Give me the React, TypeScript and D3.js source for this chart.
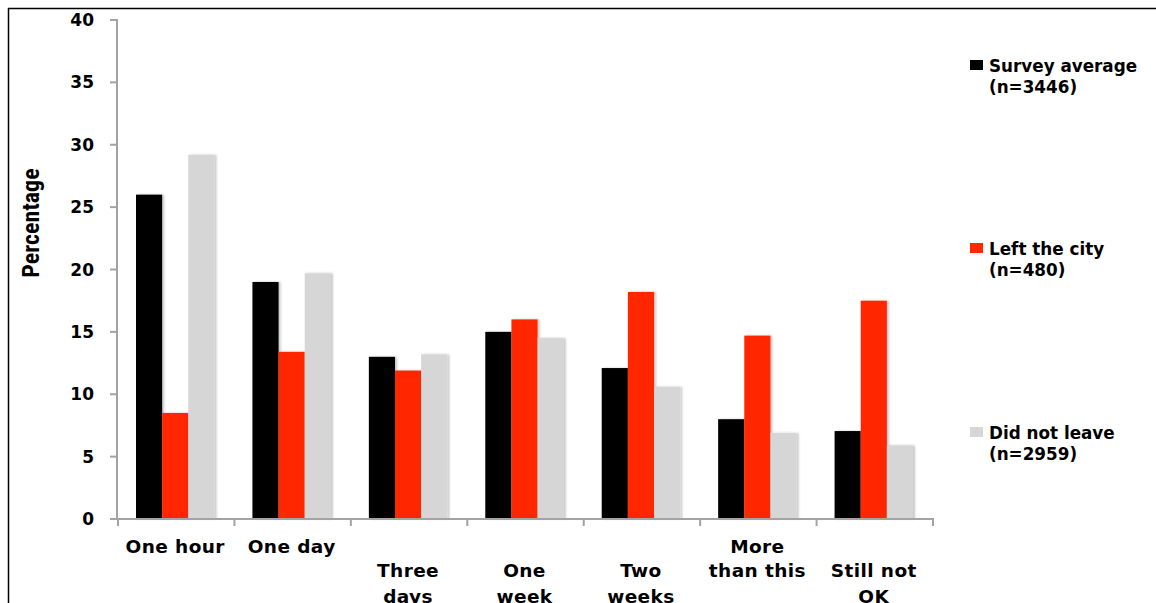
import React from "react";
import * as d3 from "d3";

const categories: string[][] = [
  ["One hour"],
  ["One day"],
  ["", "Three", "days"],
  ["", "One", "week"],
  ["", "Two", "weeks"],
  ["More", "than this"],
  ["", "Still not", "OK"],
];
const seriesNames = ["Survey average", "Left the city", "Did not leave"];
const seriesCounts = ["(n=3446)", "(n=480)", "(n=2959)"];
const seriesColors = ["#000000", "#ff2600", "#d6d6d6"];
const surveyAverage = [26.0, 19.0, 13.0, 15.0, 12.1, 8.0, 7.05];
const leftTheCity = [8.5, 13.4, 11.9, 16.0, 18.2, 14.7, 17.5];
const didNotLeave = [29.2, 19.7, 13.2, 14.5, 10.6, 6.9, 5.9];
const yTicks = [0, 5, 10, 15, 20, 25, 30, 35, 40];

const W = 1156;
const H = 603;
const plot = { left: 118, right: 933, top: 20, bottom: 519 };
const FONT = "'DejaVu Sans', Verdana, sans-serif";

export default function App() {
  const series = [surveyAverage, leftTheCity, didNotLeave];
  const idx = categories.map((_, i) => String(i));
  const x = d3.scaleBand<string>().domain(idx).range([plot.left, plot.right]).paddingInner(0).paddingOuter(0);
  const inner = d3
    .scaleBand<number>()
    .domain([0, 1, 2])
    .range([18, x.bandwidth() - 20])
    .padding(0);
  const y = d3.scaleLinear().domain([0, 40]).range([plot.bottom, plot.top]);
  const axisColor = "#a3a3a3";
  const rowY = [546, 570, 596];
  const boundaries = d3.range(categories.length + 1).map((i) =>
    i < categories.length ? (x(String(i)) as number) : plot.right
  );

  return (
    <svg
      width={W}
      height={H}
      style={{ position: "absolute", left: 0, top: 0, display: "block", background: "#fff" }}
    >
      <defs>
        <filter id="barShadow" x="-20%" y="-5%" width="140%" height="110%">
          <feDropShadow dx="2" dy="0" stdDeviation="1.2" floodColor="#000" floodOpacity="0.22" />
        </filter>
      </defs>
      {/* outer frame */}
      <line x1={8} y1={8.5} x2={W} y2={8.5} stroke="#000" strokeWidth={1.5} />
      <line x1={8.5} y1={8} x2={8.5} y2={H} stroke="#000" strokeWidth={1.5} />

      {/* bars */}
      {series.map((vals, s) => (
        <g key={s} filter="url(#barShadow)">
          {vals.map((v, i) => (
            <rect
              key={i}
              x={(x(String(i)) as number) + (inner(s) as number)}
              y={y(v)}
              width={inner.bandwidth()}
              height={y(0) - y(v)}
              fill={seriesColors[s]}
            />
          ))}
        </g>
      ))}

      {/* y axis */}
      <line x1={plot.left - 1} y1={plot.top - 1} x2={plot.left - 1} y2={plot.bottom + 1} stroke={axisColor} strokeWidth={2} />
      {yTicks.map((t) => (
        <g key={t}>
          <line x1={plot.left - 8} x2={plot.left - 1} y1={y(t)} y2={y(t)} stroke={axisColor} strokeWidth={2} />
          <text
            x={94}
            y={y(t)}
            textAnchor="end"
            dominantBaseline="central"
            fontFamily={FONT}
            fontWeight="bold"
            fontSize={17}
            fill="#000"
          >
            {t}
          </text>
        </g>
      ))}
      <text
        transform={`translate(31,${223}) rotate(-90)`}
        textAnchor="middle"
        dominantBaseline="central"
        fontFamily="'Liberation Sans Narrow', 'Roboto Condensed', 'Open Sans', sans-serif"
        fontWeight="bold"
        fontSize={24}
        fill="#000"
      >
        Percentage
      </text>

      {/* x axis */}
      <line x1={plot.left - 2} x2={plot.right + 1} y1={plot.bottom} y2={plot.bottom} stroke={axisColor} strokeWidth={2} />
      {boundaries.map((bx, i) => (
        <line key={i} x1={bx} x2={bx} y1={plot.bottom} y2={plot.bottom + 7} stroke={axisColor} strokeWidth={2} />
      ))}
      {categories.map((lines, i) => (
        <text
          key={i}
          textAnchor="middle"
          fontFamily={FONT}
          fontWeight="bold"
          fontSize={18.5}
          letterSpacing={0.4}
          fill="#000"
        >
          {lines.map((ln, r) =>
            ln ? (
              <tspan key={r} x={(x(String(i)) as number) + x.bandwidth() / 2 - 1} y={rowY[r]} dominantBaseline="central">
                {ln}
              </tspan>
            ) : null
          )}
        </text>
      ))}

      {/* legend */}
      {seriesNames.map((name, s) => {
        const cy = [66, 249, 433][s];
        return (
          <g key={name}>
            <rect x={970} y={cy - 6} width={13} height={10} fill={seriesColors[s]} />
            <text x={989} y={cy} dominantBaseline="central" fontFamily={FONT} fontWeight="bold" fontSize={16.8} fill="#000">
              {name}
            </text>
            <text x={989} y={cy + 21} dominantBaseline="central" fontFamily={FONT} fontWeight="bold" fontSize={16.8} fill="#000">
              {seriesCounts[s]}
            </text>
          </g>
        );
      })}
    </svg>
  );
}
